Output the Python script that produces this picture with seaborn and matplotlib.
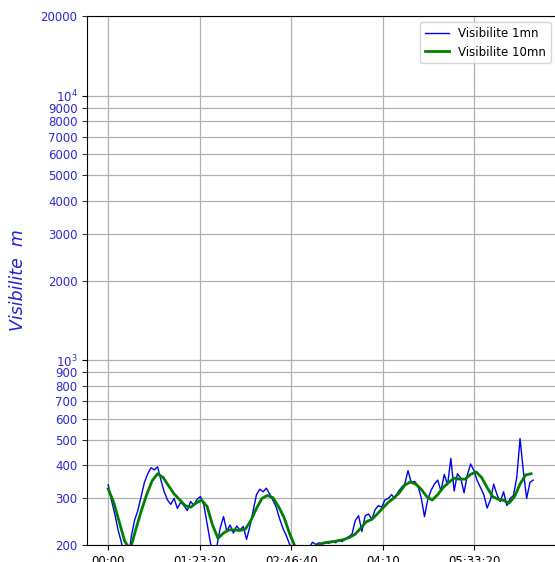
import numpy as np
import pandas as pd
import matplotlib
matplotlib.use('Agg')
import matplotlib.pyplot as plt
import matplotlib.ticker as mticker
import seaborn as sns

# Visibilite 1mn, one value every 3 minutes (m)
vis_1mn = [338, 295, 262, 228, 205, 178, 172, 215, 248, 270,
           305, 345, 372, 392, 385, 395, 352, 318, 296, 285,
           300, 275, 290, 282, 270, 292, 283, 298, 305, 285,
           242, 205, 180, 198, 232, 256, 226, 238, 222, 236,
           228, 235, 210, 235, 270, 310, 325, 318, 328, 312,
           295, 278, 252, 232, 218, 202, 190, 182, 178, 180,
           186, 195, 205, 201, 204, 202, 205, 203, 207, 204,
           209, 206, 211, 215, 220, 248, 258, 225, 258, 262,
           250, 272, 282, 278, 296, 300, 310, 300, 318, 330,
           340, 382, 345, 348, 335, 302, 256, 298, 322, 340,
           352, 320, 370, 338, 425, 320, 372, 358, 315, 368,
           405, 382, 350, 330, 310, 276, 296, 340, 310, 292,
           318, 282, 300, 308, 360, 505, 380, 300, 345, 352]
minutes_1mn = list(range(0, 3 * len(vis_1mn), 3))

# Visibilite 10mn, one value every 5 minutes (m)
vis_10mn = [326, 290, 245, 207, 192, 228, 268, 310, 350, 372,
            360, 335, 312, 297, 282, 278, 288, 296, 280, 238,
            212, 222, 228, 228, 227, 230, 248, 275, 300, 308,
            302, 280, 255, 222, 198, 192, 192, 195, 199, 203,
            205, 206, 208, 210, 214, 220, 232, 245, 250, 262,
            276, 290, 301, 315, 337, 346, 340, 325, 305, 296,
            310, 330, 345, 358, 355, 355, 370, 378, 360, 330,
            305, 298, 295, 288, 305, 340, 368, 372]
minutes_10mn = list(range(0, 5 * len(vis_10mn), 5))

df1 = pd.DataFrame({"t": np.array(minutes_1mn) * 60, "vis": vis_1mn})
df10 = pd.DataFrame({"t": np.array(minutes_10mn) * 60, "vis": vis_10mn})

tick_blue = '#2b2bd0'

fig = plt.figure(figsize=(5.55, 5.62), dpi=100)
ax = fig.add_axes([0.157, 0.0302, 0.846, 0.9413])

sns.lineplot(x="t", y="vis", data=df1, ax=ax, color='#0000ee', linewidth=1.0,
             label="Visibilite 1mn")
sns.lineplot(x="t", y="vis", data=df10, ax=ax, color='green', linewidth=2.0,
             label="Visibilite 10mn")

ax.set_yscale('log')
ax.set_ylim(200, 20000)
ax.set_xlim(-1150, 24500)

# y ticks: decades as 10^n, everything else as plain numbers
ax.set_yticks([1000, 10000])
ax.yaxis.set_major_formatter(mticker.LogFormatterSciNotation())
minor_vals = [200, 300, 400, 500, 600, 700, 800, 900,
              2000, 3000, 4000, 5000, 6000, 7000, 8000, 9000, 20000]
ax.set_yticks(minor_vals, minor=True)
ax.set_yticklabels([str(v) for v in minor_vals], minor=True)


def hms(x, pos):
    x = int(round(x))
    h, m, s = x // 3600, (x % 3600) // 60, x % 60
    if s == 0:
        return f"{h:02d}:{m:02d}"
    return f"{h:02d}:{m:02d}:{s:02d}"


ax.set_xticks([0, 5000, 10000, 15000, 20000])
ax.xaxis.set_major_formatter(mticker.FuncFormatter(hms))

ax.tick_params(axis='y', which='both', labelsize=8.5, labelcolor=tick_blue, length=3.5)
ax.tick_params(axis='x', labelsize=8.5, length=3.5)

ax.grid(True, axis='y', which='both', color='#b0b0b0', linewidth=0.9)
ax.grid(True, axis='x', which='major', color='#b0b0b0', linewidth=0.9)

ax.set_xlabel("")
ax.set_ylabel("Visibilite  m", fontsize=12.5, style='italic', color='#2020d8')
ax.yaxis.set_label_coords(-0.128, 0.5)

ax.legend(loc='upper right', fontsize=8.5, framealpha=0.8)

plt.savefig('out.png', dpi=100)
plt.close()
